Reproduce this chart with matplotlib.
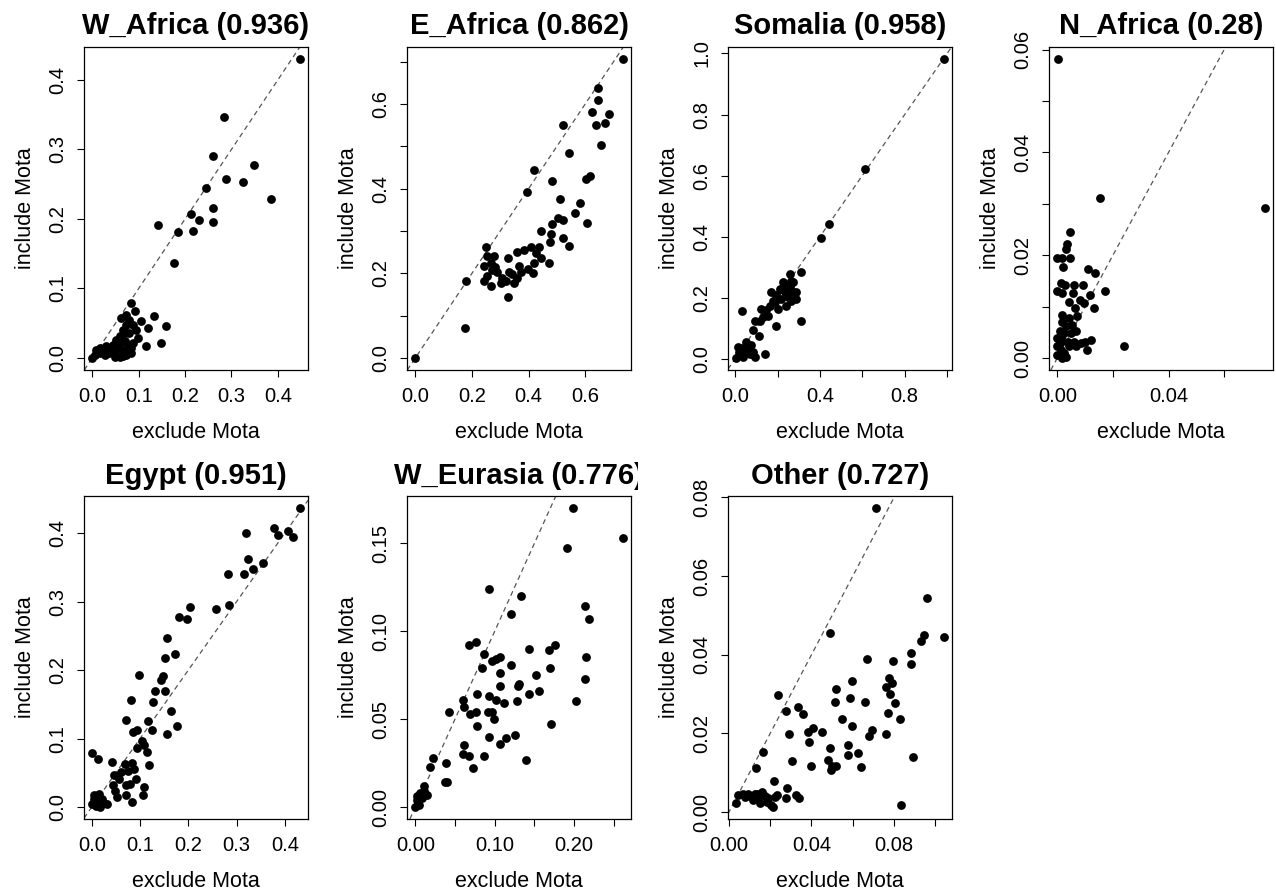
import numpy as np
import matplotlib.pyplot as plt
from matplotlib.transforms import Bbox, TransformedBbox

plt.rcParams["font.family"] = ["Liberation Sans", "DejaVu Sans"]

# (exclude Mota, include Mota) pairs
w_africa = np.array([
    (0.447, 0.430), (0.283, 0.346), (0.261, 0.291), (0.348, 0.277), (0.289, 0.257),
    (0.325, 0.253), (0.246, 0.245), (0.386, 0.229), (0.261, 0.216), (0.213, 0.207),
    (0.230, 0.198), (0.261, 0.195), (0.217, 0.183), (0.185, 0.181), (0.142, 0.191),
    (0.177, 0.137), (0.084, 0.079), (0.091, 0.067), (0.072, 0.062), (0.132, 0.061),
    (0.106, 0.053), (0.159, 0.046), (0.120, 0.043), (0.098, 0.029), (0.149, 0.022),
    (0.116, 0.018), (0.073, 0.048), (0.066, 0.041), (0.080, 0.036), (0.059, 0.031),
    (0.052, 0.026), (0.070, 0.024), (0.045, 0.019), (0.030, 0.017), (0.016, 0.014),
    (0.009, 0.012), (0.000, 0.000), (0.005, 0.004), (0.023, 0.010), (0.037, 0.007),
    (0.048, 0.002), (0.059, 0.001), (0.073, 0.005), (0.084, 0.007), (0.066, 0.012),
    (0.055, 0.014), (0.077, 0.017), (0.088, 0.022), (0.062, 0.057), (0.080, 0.055),
    (0.088, 0.048), (0.095, 0.041), (0.027, 0.005), (0.016, 0.007), (0.034, 0.012),
    (0.045, 0.010), (0.052, 0.005), (0.066, 0.003), (0.077, 0.010), (0.084, 0.014),
    (0.059, 0.022), (0.070, 0.036),
])

e_africa = np.array([
    (0.000, 0.000), (0.732, 0.706), (0.177, 0.070), (0.180, 0.182), (0.327, 0.144),
    (0.644, 0.638), (0.646, 0.610), (0.623, 0.580), (0.685, 0.575), (0.637, 0.549),
    (0.670, 0.554), (0.520, 0.549), (0.655, 0.502), (0.543, 0.485), (0.419, 0.444),
    (0.618, 0.430), (0.602, 0.422), (0.393, 0.392), (0.481, 0.418), (0.511, 0.376),
    (0.582, 0.365), (0.563, 0.343), (0.606, 0.318), (0.502, 0.331), (0.523, 0.326),
    (0.484, 0.316), (0.443, 0.300), (0.479, 0.292), (0.523, 0.284), (0.543, 0.265),
    (0.476, 0.273), (0.437, 0.261), (0.407, 0.261), (0.384, 0.255), (0.360, 0.251),
    (0.425, 0.249), (0.443, 0.237), (0.419, 0.225), (0.472, 0.224), (0.366, 0.218),
    (0.396, 0.211), (0.416, 0.200), (0.327, 0.237), (0.248, 0.261), (0.254, 0.241),
    (0.278, 0.241), (0.266, 0.225), (0.283, 0.214), (0.254, 0.194), (0.289, 0.202),
    (0.307, 0.190), (0.343, 0.198), (0.242, 0.182), (0.266, 0.170), (0.301, 0.178),
    (0.319, 0.182), (0.348, 0.178), (0.360, 0.190), (0.272, 0.209), (0.242, 0.217),
    (0.331, 0.202), (0.372, 0.203),
])

somalia = np.array([
    (0.984, 0.982), (0.614, 0.620), (0.441, 0.440), (0.403, 0.394), (0.310, 0.285),
    (0.312, 0.125), (0.031, 0.155), (0.194, 0.106), (0.142, 0.016), (0.257, 0.278),
    (0.265, 0.256), (0.241, 0.239), (0.225, 0.250), (0.272, 0.218), (0.288, 0.196),
    (0.249, 0.201), (0.209, 0.229), (0.194, 0.207), (0.178, 0.190), (0.162, 0.174),
    (0.146, 0.158), (0.170, 0.218), (0.186, 0.185), (0.217, 0.196), (0.233, 0.218),
    (0.265, 0.190), (0.288, 0.218), (0.202, 0.163), (0.154, 0.141), (0.131, 0.136),
    (0.115, 0.125), (0.091, 0.125), (0.083, 0.093), (0.112, 0.073), (0.123, 0.163),
    (0.241, 0.174), (0.272, 0.250), (0.257, 0.234), (0.013, 0.038), (0.020, 0.011),
    (0.005, 0.002), (0.036, 0.022), (0.049, 0.054), (0.060, 0.033), (0.068, 0.016),
    (0.083, 0.022), (0.091, 0.005), (0.039, 0.005), (0.028, 0.035), (0.052, 0.038),
    (0.076, 0.044), (0.017, 0.022),
])

n_africa = np.array([
    (0.0004, 0.0582), (0.0746, 0.0292), (0.0153, 0.0311), (0.0239, 0.0024), (0.0044, 0.0245),
    (0.0036, 0.0221), (0.0030, 0.0212), (0.0000, 0.0195), (0.0018, 0.0195), (0.0044, 0.0195),
    (0.0020, 0.0178), (0.0111, 0.0173), (0.0135, 0.0165), (0.0171, 0.0130), (0.0012, 0.0146),
    (0.0027, 0.0143), (0.0060, 0.0143), (0.0092, 0.0143), (0.0000, 0.0131), (0.0018, 0.0126),
    (0.0056, 0.0126), (0.0117, 0.0123), (0.0042, 0.0110), (0.0080, 0.0112), (0.0096, 0.0107),
    (0.0131, 0.0097), (0.0062, 0.0097), (0.0016, 0.0084), (0.0042, 0.0078), (0.0072, 0.0082),
    (0.0016, 0.0071), (0.0030, 0.0062), (0.0054, 0.0065), (0.0008, 0.0052), (0.0024, 0.0049),
    (0.0048, 0.0049), (0.0066, 0.0052), (0.0000, 0.0039), (0.0018, 0.0036), (0.0039, 0.0032),
    (0.0060, 0.0032), (0.0084, 0.0029), (0.0101, 0.0032), (0.0123, 0.0036), (0.0107, 0.0015),
    (0.0000, 0.0023), (0.0012, 0.0016), (0.0024, 0.0010), (0.0000, 0.0005), (0.0016, 0.0000),
    (0.0030, 0.0002), (0.0042, 0.0023), (0.0066, 0.0023), (0.0008, 0.0029),
])

egypt = np.array([
    (0.431, 0.437), (0.319, 0.400), (0.378, 0.407), (0.386, 0.397), (0.407, 0.403),
    (0.417, 0.394), (0.323, 0.363), (0.316, 0.340), (0.283, 0.340), (0.335, 0.348),
    (0.354, 0.356), (0.257, 0.289), (0.285, 0.295), (0.204, 0.292), (0.197, 0.275),
    (0.181, 0.277), (0.156, 0.247), (0.173, 0.223), (0.151, 0.218), (0.098, 0.193),
    (0.148, 0.191), (0.144, 0.186), (0.132, 0.169), (0.151, 0.169), (0.127, 0.154),
    (0.082, 0.157), (0.165, 0.141), (0.177, 0.119), (0.156, 0.107), (0.071, 0.127),
    (0.117, 0.126), (0.125, 0.112), (0.085, 0.110), (0.094, 0.112), (0.104, 0.097),
    (0.108, 0.090), (0.094, 0.086), (0.115, 0.080), (0.001, 0.079), (0.013, 0.070),
    (0.118, 0.062), (0.041, 0.066), (0.069, 0.063), (0.084, 0.065), (0.046, 0.047),
    (0.060, 0.051), (0.074, 0.053), (0.087, 0.055), (0.056, 0.041), (0.091, 0.041),
    (0.070, 0.032), (0.080, 0.033), (0.108, 0.029), (0.043, 0.032), (0.049, 0.024),
    (0.053, 0.015), (0.070, 0.017), (0.106, 0.017), (0.084, 0.008), (0.032, 0.005),
    (0.015, 0.019), (0.022, 0.012), (0.005, 0.012), (0.008, 0.002), (0.016, 0.000),
    (0.001, 0.005), (0.012, 0.008), (0.025, 0.006), (0.005, 0.017),
])

w_eurasia = np.array([
    (0.199, 0.170), (0.261, 0.153), (0.191, 0.147), (0.093, 0.124), (0.133, 0.120),
    (0.120, 0.110), (0.213, 0.114), (0.219, 0.107), (0.077, 0.094), (0.067, 0.092),
    (0.087, 0.087), (0.143, 0.090), (0.176, 0.092), (0.168, 0.089), (0.215, 0.085),
    (0.107, 0.085), (0.101, 0.084), (0.096, 0.083), (0.121, 0.081), (0.084, 0.079),
    (0.107, 0.076), (0.152, 0.075), (0.169, 0.079), (0.214, 0.073), (0.131, 0.070),
    (0.106, 0.069), (0.129, 0.069), (0.156, 0.066), (0.143, 0.064), (0.078, 0.064),
    (0.093, 0.063), (0.102, 0.061), (0.111, 0.059), (0.128, 0.060), (0.202, 0.060),
    (0.060, 0.061), (0.061, 0.057), (0.042, 0.054), (0.069, 0.053), (0.076, 0.054),
    (0.091, 0.054), (0.097, 0.054), (0.099, 0.050), (0.078, 0.046), (0.171, 0.047),
    (0.093, 0.040), (0.107, 0.036), (0.114, 0.039), (0.125, 0.041), (0.061, 0.035),
    (0.060, 0.030), (0.067, 0.029), (0.086, 0.029), (0.072, 0.022), (0.139, 0.027),
    (0.022, 0.028), (0.039, 0.025), (0.019, 0.023), (0.038, 0.014), (0.040, 0.014),
    (0.011, 0.012), (0.015, 0.007), (0.006, 0.008), (0.002, 0.006), (0.004, 0.002),
    (0.000, 0.000), (0.008, 0.005), (0.002, 0.004), (0.011, 0.009), (0.005, 0.001),
])

other = np.array([
    (0.0713, 0.0773), (0.0959, 0.0545), (0.1040, 0.0446), (0.0943, 0.0449), (0.0931, 0.0435),
    (0.0489, 0.0454), (0.0883, 0.0404), (0.0883, 0.0376), (0.0794, 0.0384), (0.0667, 0.0389),
    (0.0777, 0.0340), (0.0789, 0.0329), (0.0594, 0.0334), (0.0521, 0.0314), (0.0761, 0.0317),
    (0.0781, 0.0300), (0.0238, 0.0297), (0.0512, 0.0281), (0.0586, 0.0290), (0.0659, 0.0281),
    (0.0805, 0.0277), (0.0335, 0.0268), (0.0279, 0.0258), (0.0361, 0.0249), (0.0768, 0.0251),
    (0.0546, 0.0237), (0.0829, 0.0237), (0.0405, 0.0215), (0.0594, 0.0220), (0.0384, 0.0203),
    (0.0450, 0.0203), (0.0691, 0.0210), (0.0680, 0.0194), (0.0292, 0.0199), (0.0761, 0.0199),
    (0.0389, 0.0177), (0.0579, 0.0171), (0.0492, 0.0163), (0.0165, 0.0152), (0.0579, 0.0146),
    (0.0624, 0.0150), (0.0891, 0.0141), (0.0481, 0.0133), (0.0308, 0.0131), (0.0521, 0.0118),
    (0.0498, 0.0118), (0.0494, 0.0106), (0.0400, 0.0117), (0.0640, 0.0114), (0.0133, 0.0112),
    (0.0217, 0.0078), (0.0282, 0.0062), (0.0275, 0.0036), (0.0327, 0.0044), (0.0340, 0.0035),
    (0.0834, 0.0017), (0.0036, 0.0024), (0.0044, 0.0044), (0.0068, 0.0046), (0.0092, 0.0046),
    (0.0100, 0.0042), (0.0117, 0.0030), (0.0125, 0.0046), (0.0141, 0.0035), (0.0149, 0.0024),
    (0.0162, 0.0051), (0.0173, 0.0042), (0.0185, 0.0027), (0.0206, 0.0017), (0.0189, 0.0035),
    (0.0222, 0.0038), (0.0233, 0.0044), (0.0076, 0.0038), (0.0136, 0.0046), (0.0214, 0.0013),
])

titles = ["W_Africa (0.936)", "E_Africa (0.862)", "Somalia (0.958)", "N_Africa (0.28)",
          "Egypt (0.951)", "W_Eurasia (0.776)", "Other (0.727)"]
panels = [w_africa, e_africa, somalia, n_africa, egypt, w_eurasia, other]

# tick positions, and which of them R printed a label for
xticks = [[0.0, 0.1, 0.2, 0.3, 0.4], [0.0, 0.2, 0.4, 0.6], [0.0, 0.2, 0.4, 0.6, 0.8, 1.0],
          [0.0, 0.02, 0.04, 0.06], [0.0, 0.1, 0.2, 0.3, 0.4],
          [0.0, 0.05, 0.10, 0.15, 0.20, 0.25], [0.0, 0.02, 0.04, 0.06, 0.08, 0.10]]
xlabels = [["0.0", "0.1", "0.2", "0.3", "0.4"], ["0.0", "0.2", "0.4", "0.6"],
           ["0.0", "", "0.4", "", "0.8", ""], ["0.00", "", "0.04", ""],
           ["0.0", "0.1", "0.2", "0.3", "0.4"], ["0.00", "", "0.10", "", "0.20", ""],
           ["0.00", "", "0.04", "", "0.08", ""]]
yticks = [[0.0, 0.1, 0.2, 0.3, 0.4], [0.0, 0.1, 0.2, 0.3, 0.4, 0.5, 0.6, 0.7],
          [0.0, 0.2, 0.4, 0.6, 0.8, 1.0], [0.0, 0.01, 0.02, 0.03, 0.04, 0.05, 0.06],
          [0.0, 0.1, 0.2, 0.3, 0.4], [0.0, 0.05, 0.10, 0.15],
          [0.0, 0.02, 0.04, 0.06, 0.08]]
ylabels = [["0.0", "0.1", "0.2", "0.3", "0.4"], ["0.0", "", "0.2", "", "0.4", "", "0.6", ""],
           ["0.0", "0.2", "0.4", "0.6", "0.8", "1.0"],
           ["0.00", "", "0.02", "", "0.04", "", "0.06"],
           ["0.0", "0.1", "0.2", "0.3", "0.4"], ["0.00", "0.05", "0.10", "0.15"],
           ["0.00", "0.02", "0.04", "0.06", "0.08"]]

W, H = 1276, 893
fig = plt.figure(figsize=(W / 100, H / 100), dpi=100)

lefts = [84, 407, 728, 1049]
bottoms = [370, 819]
box_w, box_h = 224, 323

for i, pts in enumerate(panels):
    row, col = divmod(i, 4)
    ax = fig.add_axes([lefts[col] / W, 1 - bottoms[row] / H, box_w / W, box_h / H])
    x, y = pts[:, 0], pts[:, 1]
    ax.scatter(x, y, s=40, c="black", linewidths=0, zorder=3)
    ax.axline((0, 0), slope=1, linestyle=(0, (4, 3)), color="#555555", lw=0.9)

    ax.set_xticks(xticks[i])
    ax.set_xticklabels(xlabels[i])
    ax.set_yticks(yticks[i])
    ax.set_yticklabels(ylabels[i], rotation=90, va="center")
    # R style 4% padding
    ax.set_xlim(x.min() - 0.04 * np.ptp(x), x.max() + 0.04 * np.ptp(x))
    ax.set_ylim(y.min() - 0.04 * np.ptp(y), y.max() + 0.04 * np.ptp(y))

    ax.tick_params(direction="out", length=5, width=0.8, labelsize=14.5, pad=7,
                   top=False, right=False)
    for s in ax.spines.values():
        s.set_linewidth(0.9)

    ax.set_xlabel("exclude Mota", fontsize=15.5, labelpad=12)
    ax.set_ylabel("include Mota", fontsize=15.5, labelpad=9)
    t = ax.set_title(titles[i], fontsize=21, fontweight="bold", pad=9)
    # R clips the title to its own figure cell
    cell = Bbox([[col * 0.25, 0.5 * (1 - row)], [(col + 1) * 0.25, 0.5 * (2 - row)]])
    t.set_clip_box(TransformedBbox(cell, fig.transFigure))
    t.set_clip_on(True)

fig.savefig("out.png", dpi=100, facecolor="white")
